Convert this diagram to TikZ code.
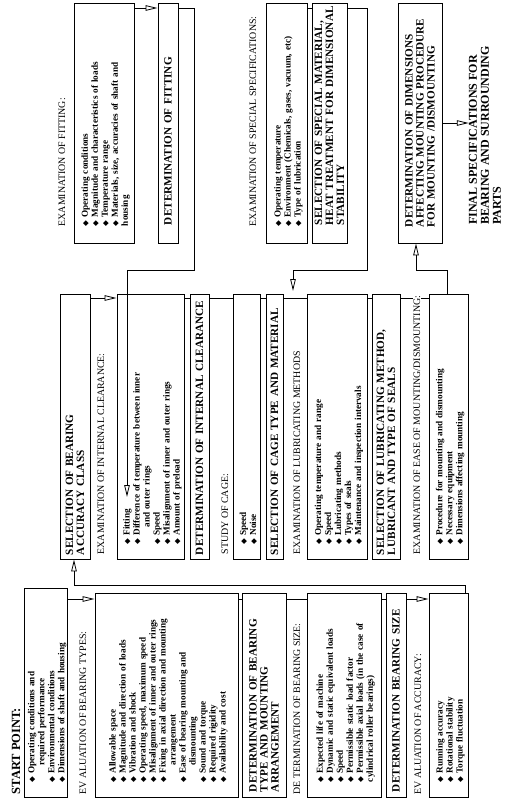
\documentclass[tikz,border=0pt]{standalone}
\usepackage{fontspec}
\setmainfont{Liberation Serif}
\newfontfamily\symfont{DejaVu Sans}
\usetikzlibrary{arrows.meta,calc,shadows}
\pgfdeclarelayer{bg}
\pgfsetlayers{bg,main}
\newcommand{\titlefont}{\bfseries\fontsize{11.2}{11}\selectfont}
\newcommand{\itemfont}{\bfseries\fontsize{9.2}{10}\selectfont}
\newcommand{\hdrfont}{\fontsize{9.9}{10}\selectfont}
\newcommand{\bulglyph}{{\symfont\fontsize{7.5}{7.5}\selectfont ◆}}
\newcommand{\bi}{\par\hangindent=16.5pt\hangafter=1\noindent\makebox[8.5pt][l]{\bulglyph}}
\newcommand{\nl}{\hfil\break}
\newcommand{\tl}[1]{\mbox{#1}}
\newcommand{\bx}[8]{%
  \pgfmathsetmacro\cx{(#3+#4)/2}\pgfmathsetmacro\cy{(#5+#6)/2}%
  \pgfmathsetmacro\bw{#6-#5}\pgfmathsetmacro\bh{#4-#3}\pgfmathsetmacro\tw{#6-#5-2*#7}%
  \node[#1, inner xsep=#7pt, minimum width=\bw pt, minimum height=\bh pt, text width=\tw pt] (#2) at (\cx,\cy) {#8};}
\begin{document}
\begin{tikzpicture}[x=1pt,y=-1pt,
  box/.style={draw, line width=0.9pt, rotate=90, inner ysep=0pt, align=left, fill=white},
  ttl/.style={box, font=\titlefont, drop shadow={shadow xshift=1.3pt, shadow yshift=-1.3pt, fill=black, opacity=1}},
  itm/.style={box, font=\itemfont},
  hdr/.style={rotate=90, anchor=west, inner sep=0.5pt, font=\hdrfont, fill=white, align=left},
  arr/.style={-{Triangle[open,length=12pt,width=5.5pt]}, line width=0.8pt},
  con/.style={line width=0.8pt}]
\useasboundingbox (0,0) rectangle (505,803);
% ---------- left column ----------
\node[hdr, font=\bfseries\fontsize{12.5}{13}\selectfont] (sp) at (16,795) {START POINT:};
\bx{itm}{start}{24}{67}{588}{797}{15}{\bi Operating conditions and\nl required performance
 \bi Environmental conditions \bi Dimensions of shaft and housing}
\node[hdr] (evh) at (83,795) {EV ALUATION OF BEARING TYPES:};
\bx{itm}{eval}{95}{238}{593}{797}{15}{\bi Allowable space \bi Magnitude and direction of loads
 \bi Vibration and shock \bi Operating speed, maximum speed \bi Misalignment of inner and outer rings
 \bi Fixing in axial direction and mounting\nl arrangement \bi Ease of bearing mounting and\nl dismounting
 \bi Sound and torque \bi Required rigidity \bi Availability and cost}
\bx{ttl}{dtype}{242}{286}{593}{797}{5}{\tl{DETERMINATION OF BEARING}\\\tl{TYPE AND MOUNTING}\\\tl{ARRANGEMENT}}
\node[hdr] (szh) at (297,795) {DE TERMINATION OF BEARING SIZE:};
\bx{itm}{size}{307}{381}{593}{797}{15}{\bi Expected life of machine \bi Dynamic and static equivalent loads
 \bi Speed \bi Permissible static load factor \bi Permissible axial loads (in the case of\nl cylindrical roller bearings)}
\bx{ttl}{dsize}{386}{406}{593}{797}{5}{\tl{DETERMINATION BEARING SIZE}}
\node[hdr] (ach) at (418,795) {EV ALUATION OF ACCURACY:};
\bx{itm}{acc}{429}{468}{593}{797}{15}{\bi Running accuracy \bi Rotational stability \bi Torque fluctuation}
% ---------- middle column ----------
\bx{ttl}{asel}{60}{90}{294}{559}{4}{\tl{SELECTION OF BEARING}\\\tl{ACCURACY CLASS}}
\node[hdr] (clh) at (101,555) {EXAMINATION OF INTERNAL CLEARANCE:};
\bx{itm}{clr}{117}{184}{294}{559}{15}{\bi Fitting \bi Difference of temperature between inner\nl and outer rings
 \bi Speed \bi Misalignment of inner and outer rings \bi Amount of preload}
\bx{ttl}{dclr}{190}{209}{294}{559}{4}{\tl{DETERMINATION OF INTERNAL CLEARANCE}}
\node[hdr] (cgh) at (225,555) {STUDY OF CAGE:};
\bx{itm}{cage}{233}{260}{294}{559}{15}{\bi Speed \bi Noise}
\bx{ttl}{csel}{266}{283}{294}{559}{4}{\tl{SELECTION OF CAGE TYPE AND MATERIAL}}
\node[hdr] (lbh) at (297,555) {EXAMINATION OF LUBRICATING METHODS};
\bx{itm}{lub}{307}{367}{294}{559}{15}{\bi Operating temperature and range \bi Speed \bi Lubricating methods
 \bi Types of seals \bi Maintenance and inspection intervals}
\bx{ttl}{lsel}{372}{400}{294}{559}{4}{\tl{SELECTION OF LUBRICATING METHOD,}\\\tl{LUBRICANT AND TYPE OF SEALS}}
\node[hdr] (esh) at (417,555) {EXAMINATION OF EASE OF MOUNTING/DISMOUNTING:};
\bx{itm}{ease}{429}{468}{294}{559}{15}{\bi Procedure for mounting and dismounting \bi Necessary equipment
 \bi Dimensions affecting mounting}
% ---------- right column ----------
\node[hdr] (fth) at (62,227) {EXAMINATION OF FITTING:};
\bx{itm}{fit}{74}{134}{3}{243}{17}{\bi Operating conditions \bi Magnitude and characteristics of loads
 \bi Temperature range \bi Materials, size, accuracies of shaft and\nl housing}
\bx{ttl}{dfit}{158}{178}{3}{243}{18}{\tl{DETERMINATION OF FITTING}}
\node[hdr] (ssh) at (253,227) {EXAMINATION OF SPECIAL SPECIFICATIONS:};
\bx{itm}{spec}{266}{307}{3}{243}{17}{\bi Operating temperature \bi Environment (Chemicals, gases, vacuum, etc)
 \bi Type of lubrication}
\bx{ttl}{smat}{312}{347}{3}{243}{18}{\tl{SELECTION OF SPECIAL MATERIAL,}\\\tl{HEAT TREATMENT FOR DIMENSIONAL}\\\tl{STABILITY}}
\bx{ttl}{ddim}{398}{442}{3}{243}{16}{\tl{DETERMINATION OF DIMENSIONS}\\\tl{AFFECTING MOUNTING PROCEDURE}\\\tl{FOR MOUNTING /DISMOUNTING}}
\node[rotate=90, anchor=west, align=left, inner sep=0pt, font=\bfseries\fontsize{12}{12}\selectfont] (fin) at (485,225)
  {FINAL SPECIFICATIONS FOR\\BEARING AND SURROUNDING\\PARTS};
% ---------- connectors ----------
\coordinate (lt) at (0,599);
\coordinate (lh) at (74,585);
\coordinate (mt) at (0,298);
\coordinate (rt) at (0,8);
\begin{pgfonlayer}{bg}
\draw[arr] (start.south |- lt) -- (eval.north |- lt);
\draw[con] (eval.south |- lt) -- (dtype.north |- lt);
\draw[con] (dtype.south |- lt) -- (size.north |- lt);
\draw[con] (size.south |- lt) -- (dsize.north |- lt);
\draw[arr] (dsize.south |- lt) -- (acc.north |- lt);
\draw[arr] (acc.east -| 465,0) |- (lh) -- (asel.west -| lh);
\draw[arr] (asel.south |- mt) -- (clr.north |- mt);
\draw[con] (clr.south |- mt) -- (dclr.north |- mt);
\draw[con] (dclr.south |- mt) -- (cage.north |- mt);
\draw[con] (cage.south |- mt) -- (csel.north |- mt);
\draw[con] (csel.south |- mt) -- (lub.north |- mt);
\draw[con] (lub.south |- mt) -- (lsel.north |- mt);
\draw[con] (lsel.south |- mt) -- (ease.north |- mt);
\draw[arr] (fit.south |- rt) -- (dfit.north |- rt);
\draw[con] (spec.south |- rt) -- (smat.north |- rt);
\draw[arr] (smat.south |- rt) -| (367,270) -| (293,291);
\draw[arr] (ease.east -| 447,0) |- (416,270) -- (ddim.west -| 416,0);
\draw[arr] (ddim.south |- 0,123) -- (fin.north |- 0,123);
\end{pgfonlayer}
\draw[arr] (dfit.south |- rt) -| (194,270) -| (127,497);
\end{tikzpicture}
\end{document}
